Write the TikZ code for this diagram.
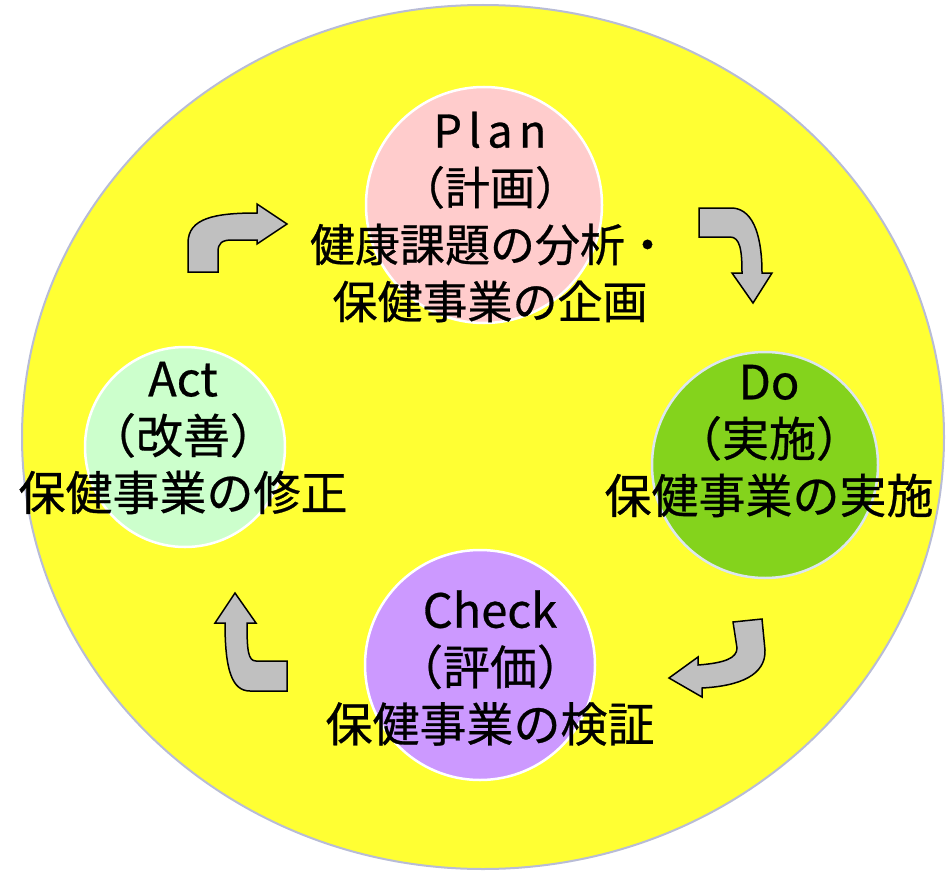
\documentclass[tikz,border=0pt]{standalone}
\usepackage{fontspec}
\newfontfamily\jpfont[FakeBold=0.6]{Noto Sans CJK JP}
\newfontfamily\jpwide[LetterSpace=14,FakeBold=0.6]{Noto Sans CJK JP}
\usetikzlibrary{shapes.geometric}
\usetikzlibrary{positioning}
\usepackage{xcolor}
\definecolor{hubyellow}{HTML}{FFFF33}
\definecolor{rimgray}{HTML}{B8BCD6}
\definecolor{planpink}{HTML}{FFCCCC}
\definecolor{dogreen}{HTML}{84D31C}
\definecolor{checkviolet}{HTML}{CC99FF}
\definecolor{actmint}{HTML}{CCFFCC}
\definecolor{arrowgray}{HTML}{C0C0C0}

\begin{document}
\begin{tikzpicture}[
        x=1pt, y=-1pt,
        hub/.style={ellipse, fill=hubyellow, draw=rimgray, line width=2pt, inner sep=0pt},
        phase/.style={circle, draw=white, line width=2.5pt, inner sep=0pt},
        caption/.style={font=\jpfont\fontsize{47}{57}\selectfont, align=center, inner sep=0pt},
        turn/.style={fill=arrowgray, draw=black, line width=1.5pt, line join=miter}
    ]
        \useasboundingbox (0,0) rectangle (947,872);
        \node[hub, minimum width=922pt, minimum height=864pt] (H) at (483,437) {};

        \node[phase, fill=planpink, minimum size=236pt] (P) at (484,205) {};
        \node[phase, fill=dogreen, draw={rgb,255:red,220;green,230;blue,240}, minimum size=226pt] (D) at (765,465) {};
        \node[phase, fill=checkviolet, minimum size=230pt] (C) at (480,665) {};
        \node[phase, fill=actmint, minimum size=200pt] (A) at (185,447) {};

        \node[caption, font=\jpfont\fontsize{45}{57}\selectfont] (Ptext) at (490,217) {{\jpwide Plan}\\（計画）\\健康課題の分析・\\保健事業の企画};
        \node[caption] (Dtext) at (769,441) {Do\\（実施）\\保健事業の実施};
        \node[caption] (Ctext) at (490,668) {Check\\（評価）\\保健事業の検証};
        \node[caption] (Atext) at (183,438) {Act\\（改善）\\保健事業の修正};

        % turning arrows between the phases
        \draw[turn] (188,272) -- (188,243) .. controls (188,218) and (215,213) .. (257,213)
            -- (257,204) -- (287,224) -- (257,244) -- (257,240) -- (232,240)
            .. controls (222,240) and (218,243) .. (218,252) -- (218,272) -- cycle;
        \draw[turn] (699,208) -- (733,208) .. controls (755,210) and (762,240) .. (762,273)
            -- (772,273) -- (753,303) -- (732,273) -- (742,273)
            .. controls (742,250) and (740,237) .. (730,237) -- (699,237) -- cycle;
        \draw[turn] (733,622) -- (762,619) -- (765,650) .. controls (766,675) and (740,686) .. (702,688)
            -- (702,697) -- (669,678) -- (698,657) -- (698,665)
            .. controls (725,663) and (737,658) .. (737,648) -- cycle;
        \draw[turn] (287,661) -- (287,691) -- (250,691) .. controls (232,691) and (225,670) .. (225,623)
            -- (215,623) -- (235,593) -- (256,623) -- (247,623)
            .. controls (247,650) and (248,661) .. (256,661) -- cycle;
    \end{tikzpicture}
\end{document}
